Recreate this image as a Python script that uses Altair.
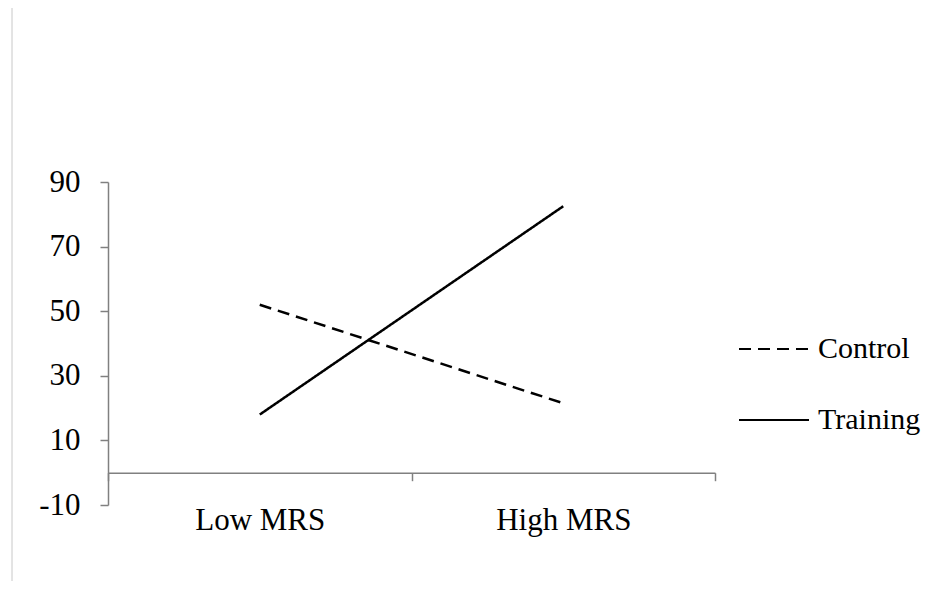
import altair as alt
import pandas as pd

categories = ["Low MRS", "High MRS"]
groups = ["Control", "Training"]
control = [52, 21.5]
training = [18, 82.5]
y_ticks = [-10, 10, 30, 50, 70, 90]

rows = []
for g, vals in zip(groups, [control, training]):
    for c, v in zip(categories, vals):
        rows.append({"group": g, "cat": c, "value": v})
df = pd.DataFrame(rows)

W, H = 607, 323
ymin, ymax = -10, 90
x_offset = -(0 - ymin) / (ymax - ymin) * H
FONT = "Liberation Serif"
FS = 31

lines = alt.Chart(df).mark_line(color="black", strokeWidth=2.5).encode(
    x=alt.X("cat:N", sort=categories, title=None,
            scale=alt.Scale(type="band", paddingInner=0, paddingOuter=0),
            axis=alt.Axis(orient="bottom", offset=x_offset, tickBand="extent",
                          tickSize=8, labelAngle=0, labelPadding=25)),
    y=alt.Y("value:Q", title=None,
            scale=alt.Scale(domain=[ymin, ymax], nice=False, zero=False),
            axis=alt.Axis(values=y_ticks, tickSize=8, labelPadding=20,
                          labelExpr="datum.value + ''")),
    strokeDash=alt.StrokeDash(
        "group:N", sort=groups,
        scale=alt.Scale(domain=groups, range=[[12, 7], [1, 0]]),
        legend=alt.Legend(title=None, orient="none", legendX=630, legendY=131,
                          symbolType="stroke", symbolSize=4900,
                          symbolStrokeWidth=2, symbolStrokeColor="black",
                          labelFont=FONT, labelFontSize=30, labelColor="black",
                          labelOffset=8, rowPadding=20, padding=0,
                          labelLimit=200)),
)

border = alt.Chart(pd.DataFrame({"a": [0]})).mark_rule(
    color="#c8c8c8", strokeWidth=1).encode(
    x=alt.value(-96), y=alt.value(-174), y2=alt.value(H + 80))

chart = alt.layer(border, lines).properties(
    width=W, height=H,
    autosize=alt.AutoSizeParams(type="none"),
    padding={"left": 100, "top": 174, "right": 206, "bottom": 76},
).configure_view(stroke=None).configure_axis(
    grid=False, labelFont=FONT, labelFontSize=FS, labelColor="black",
    domainColor="#808080", tickColor="#808080", domainWidth=1.5, tickWidth=1.5,
)

chart.save("out.html", embed_options={"renderer": "svg", "actions": False})
